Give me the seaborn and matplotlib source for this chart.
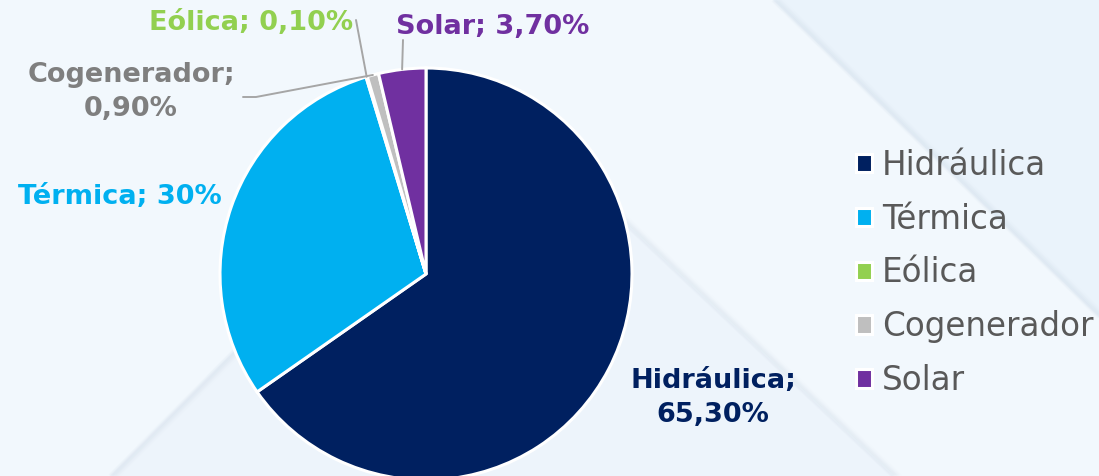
import matplotlib
matplotlib.use("Agg")
import matplotlib.pyplot as plt
from matplotlib.patches import Polygon
import numpy as np
import seaborn as sns

# ---- data ----
categories = ["Hidráulica", "Térmica", "Eólica", "Cogenerador", "Solar"]
shares = [65.30, 30.0, 0.10, 0.90, 3.70]
label_texts = ["Hidráulica;\n65,30%", "Térmica; 30%", "Eólica; 0,10%",
               "Cogenerador;\n0,90%", "Solar; 3,70%"]

# ---- style ----
slice_colors = ["#002060", "#00B0F0", "#92D050", "#BFBFBF", "#7030A0"]
label_colors = ["#002060", "#00B0F0", "#92D050", "#7F7F7F", "#7030A0"]
BG = "#F2F8FD"

sns.set_theme(style="white")
plt.rcParams["font.family"] = ["DejaVu Sans"]

W, H = 1099, 476
fig = plt.figure(figsize=(W / 100, H / 100), dpi=100, facecolor=BG)
ax = fig.add_axes([0, 0, 1, 1])
ax.set_facecolor(BG)

# subtle background decoration (diagonal shapes), pixel coords from top
deco = [
    ([(773, 0), (1099, 0), (1099, 317)], "#EAF3FB"),
    ([(240, 345), (110, 476), (893, 476), (600, 200)], "#EDF4FB"),
]
for pts, c in deco:
    ax.add_patch(Polygon([(x, H - y) for x, y in pts], closed=True,
                         facecolor=c, edgecolor="none", zorder=0))
# soft shadow edges along the diagonals
shadow_edges = [((773, 0), (1099, 317)), ((600, 200), (893, 476)), ((240, 345), (110, 476))]
for (x0, y0), (x1, y1) in shadow_edges:
    for k in range(6):
        ax.plot([x0 + k * 1.5, x1 + k * 1.5], [H - y0, H - y1], color="#C8D6E4",
                alpha=0.10 - k * 0.015, lw=3, zorder=0.5, solid_capstyle="butt")

cx, cy, R = 426, H - 274, 206
wedges, _ = ax.pie(shares, colors=slice_colors, startangle=90, counterclock=False,
                   center=(cx, cy), radius=R, normalize=True,
                   wedgeprops=dict(edgecolor="white", linewidth=2.2))
for w in wedges:
    w.set_zorder(2)

ax.set_xlim(0, W)
ax.set_ylim(0, H)
ax.set_aspect("equal")
ax.axis("off")

# label layout: (x, y_top, ha), leader anchor(s) in pixels from top
label_layout = [
    (713, 398, "center", None),
    (120, 197, "center", None),
    (251, 23, "center", (356, 20)),
    (131, 92, "center", [(243, 97), (256, 97)]),
    (493, 27, "center", (403, 40)),
]

for w, txt, col, (lx, ly, ha, anchor) in zip(wedges, label_texts, label_colors, label_layout):
    ax.text(lx, H - ly, txt, ha=ha, va="center", color=col, fontsize=19.5,
            fontweight="bold", linespacing=1.4, zorder=4)
    if anchor is not None:
        ang = np.deg2rad((w.theta1 + w.theta2) / 2)
        ex, ey = cx + R * np.cos(ang), cy + R * np.sin(ang)
        if isinstance(anchor, list):
            xs = [p[0] for p in anchor] + [ex]
            ys = [H - p[1] for p in anchor] + [ey]
        else:
            xs = [anchor[0], ex]
            ys = [H - anchor[1], ey]
        ax.plot(xs, ys, color="#A6A6A6", lw=1.4, zorder=3)

leg = ax.legend(wedges, categories, loc="center left",
                frameon=False, fontsize=23.5, labelcolor="#595959",
                handlelength=0.5, handleheight=0.5, handletextpad=0.3,
                labelspacing=0.64, borderpad=0, borderaxespad=0)
leg.set_bbox_to_anchor((856 / W, 1 - 273 / H), transform=fig.transFigure)

fig.savefig("out.png", dpi=100, facecolor=BG)
